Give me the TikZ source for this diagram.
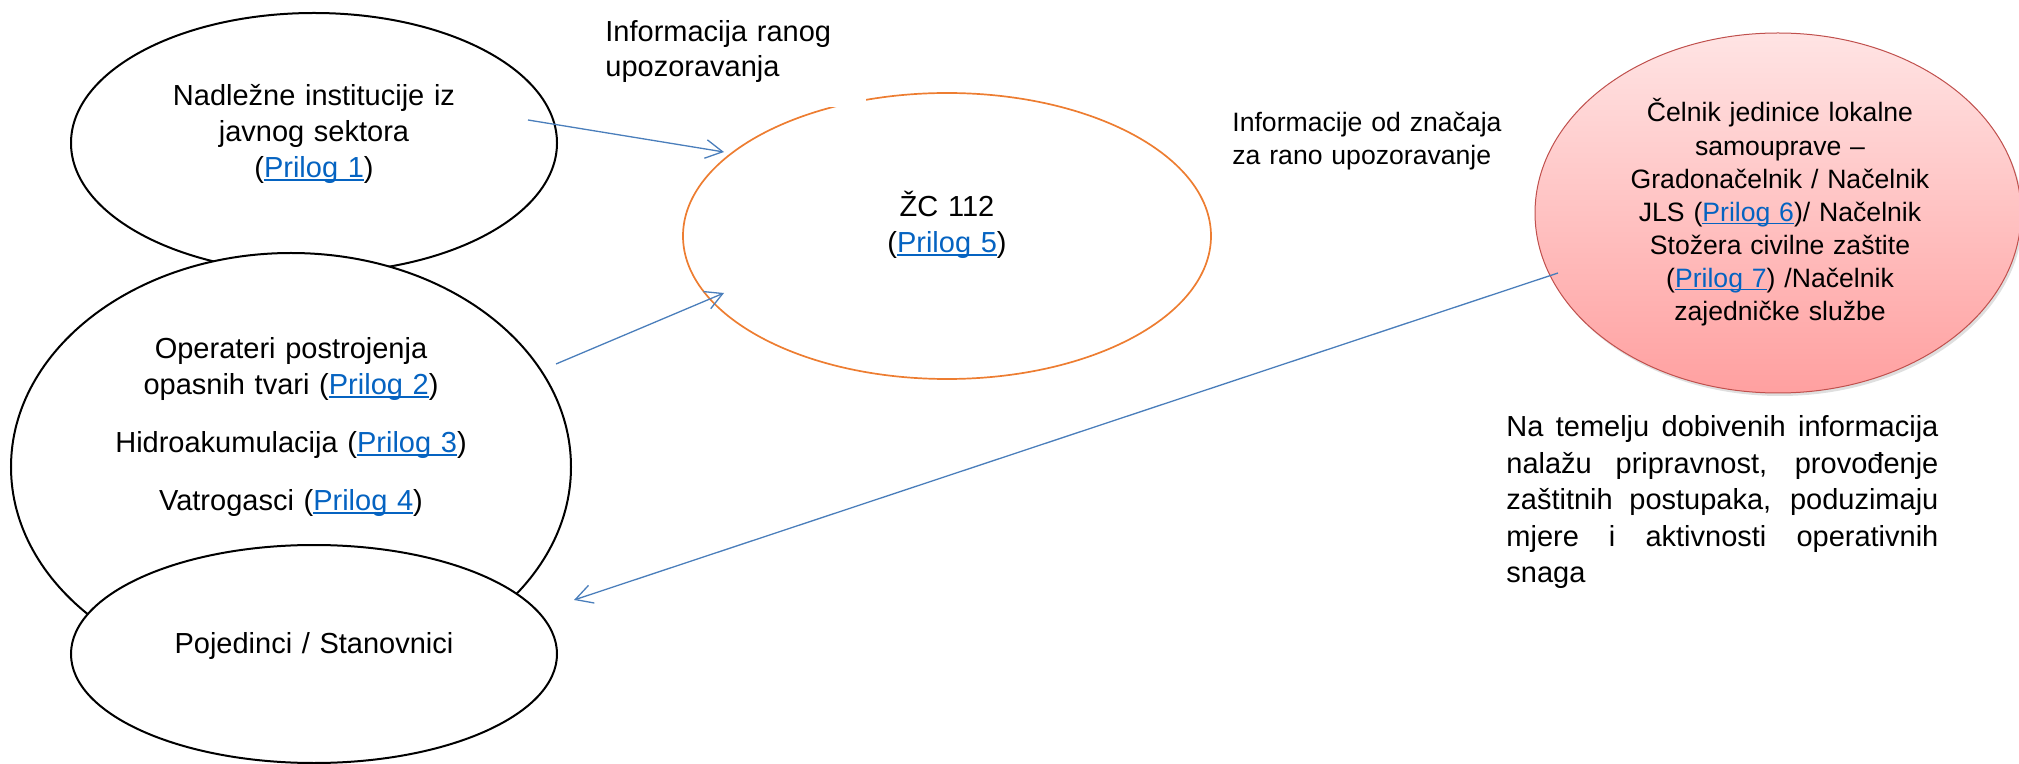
\documentclass[tikz,border=0pt]{standalone}
\usepackage{fontspec}
\setmainfont{Liberation Sans}
\usetikzlibrary{arrows.meta,shapes.geometric,shadows}
\definecolor{linkblue}{HTML}{0563C1}
\definecolor{arrblue}{HTML}{4A7EBB}
\definecolor{zcorange}{HTML}{ED7D31}
\definecolor{redborder}{HTML}{C0504D}
\definecolor{redtop}{RGB}{255,228,228}
\definecolor{redbot}{RGB}{255,160,160}
\newcommand\prilog[1]{{\color{linkblue}\setbox0\hbox{#1}\rlap{\rule[-0.11em]{\wd0}{0.06em}}\box0}}
\newcommand\jline[1]{\leavevmode\hbox to 216pt{\spaceskip=0.278em plus 1fil\relax #1}}
\newcommand\bigtxt{\fontsize{14.5pt}{18pt}\selectfont}
\newcommand\smalltxt{\fontsize{13.3pt}{16.55pt}\selectfont}
\begin{document}
\begin{tikzpicture}[x=0.5pt,y=-0.5pt,
  oval/.style={ellipse, draw=black, line width=1pt, fill=white, inner sep=0pt},
  clbl/.style={inner sep=0pt, anchor=base, align=center, text width=#1},
  llbl/.style={inner sep=0pt, anchor=base west, align=left, text width=#1},
  conn/.style={draw=arrblue, line width=0.65pt, -{Straight Barb[length=8.5pt,width=9.3pt]}}]
\useasboundingbox (0,0) rectangle (2019,764);
% left group of ellipses
\node[oval, minimum width=243pt, minimum height=130pt] (e1) at (314,143) {};
\node[oval, minimum width=280pt, minimum height=214pt] (e2) at (291,467) {};
\node[oval, minimum width=243pt, minimum height=109pt] (e3) at (314,654) {};
% ZC 112
\node[ellipse, draw=zcorange, line width=0.85pt, inner sep=0pt, minimum width=264pt, minimum height=143pt] (zc) at (947,236) {};
\fill[white] (590,0) rectangle (866,107);
% red ellipse
\node[ellipse, draw=redborder, line width=0.5pt, inner sep=0pt, top color=redtop, bottom color=redbot,
  drop shadow={opacity=0.25, shadow xshift=1pt, shadow yshift=-1.5pt},
  minimum width=243pt, minimum height=180pt] (cel) at (1778,213) {};
% texts
\node[clbl=240pt, font=\bigtxt] (t1) at (314,106) {Nadležne institucije iz\\javnog sektora\\(\prilog{Prilog 1})};
\node[clbl=260pt, font=\bigtxt] (t2) at (291,359) {Operateri postrojenja\\opasnih tvari (\prilog{Prilog 2})\\[11pt]Hidroakumulacija (\prilog{Prilog 3})\\[11pt]Vatrogasci (\prilog{Prilog 4})};
\node[clbl=240pt, font=\bigtxt] (t3) at (314,653) {Pojedinci / Stanovnici};
\node[clbl=200pt, font=\bigtxt] (tzc) at (947,217) {ŽC 112\\(\prilog{Prilog 5})};
\node[clbl=220pt, font=\smalltxt] (tcel) at (1780,122) {Čelnik jedinice lokalne\\samouprave –\\Gradonačelnik / Načelnik\\JLS (\prilog{Prilog 6})/ Načelnik\\Stožera civilne zaštite\\(\prilog{Prilog 7}) /Načelnik\\zajedničke službe};
\node[llbl=150pt, font=\fontsize{14.5pt}{17.5pt}\selectfont] (tinfo1) at (605,42) {Informacija ranog\\upozoravanja};
\node[llbl=150pt, font=\fontsize{13.3pt}{16.5pt}\selectfont] (tinfo2) at (1232,132) {Informacije od značaja\\za rano upozoravanje};
\node[llbl=217pt, font=\fontsize{14.5pt}{18.25pt}\selectfont] (tna) at (1506,437) {\jline{Na temelju dobivenih informacija}\\\jline{nalažu pripravnost, provođenje}\\\jline{zaštitnih postupaka, poduzimaju}\\\jline{mjere i aktivnosti operativnih}\\snaga};
% connectors
\coordinate (a1s) at (528,120);
\coordinate (a1e) at (724,152);
\coordinate (a2s) at (556,364);
\coordinate (a2e) at (724,293);
\coordinate (a3s) at (1558,273);
\coordinate (a3e) at (574,600);
\draw[conn] (a1s) -- (a1e);
\draw[conn] (a2s) -- (a2e);
\draw[conn] (a3s) -- (a3e);
\end{tikzpicture}
\end{document}
